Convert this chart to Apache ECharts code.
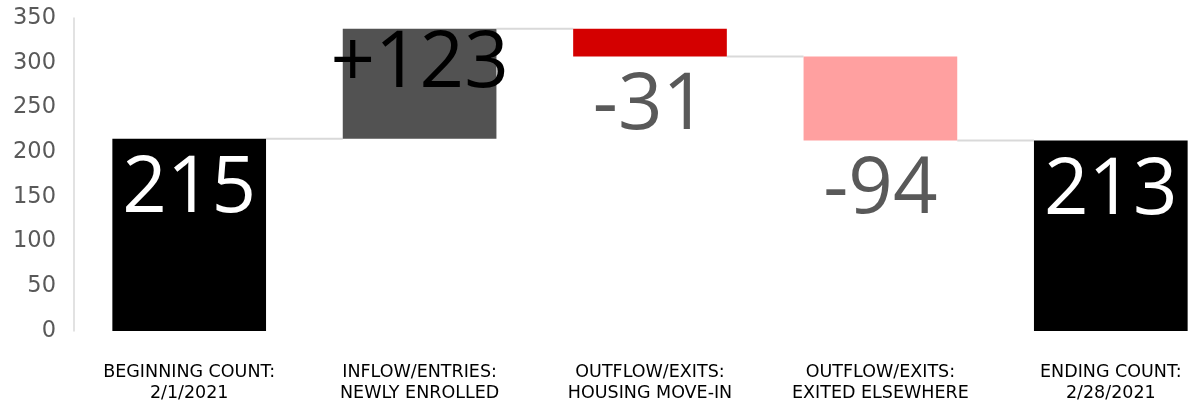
<!DOCTYPE html>
<html><head><meta charset="utf-8">
<script src="https://cdn.jsdelivr.net/npm/echarts@6/dist/echarts.min.js"></script>
<style>html,body{margin:0;padding:0;background:#fff}#c{width:1191px;height:406px}</style>
</head><body><div id="c"></div>
<script>
const categories = ['BEGINNING COUNT:\n2/1/2021','INFLOW/ENTRIES:\nNEWLY ENROLLED','OUTFLOW/EXITS:\nHOUSING MOVE-IN','OUTFLOW/EXITS:\nEXITED ELSEWHERE','ENDING COUNT:\n2/28/2021'];
const changes = [215, 123, -31, -94, 213];
const isTotal = [true, false, false, false, true];
const valueLabels = ['215', '+123', '-31', '-94', '213'];
const barColors = ['#000000', '#525252', '#d40000', '#ffa0a0', '#000000'];
const labelColors = ['#ffffff', '#000000', '#595959', '#595959', '#ffffff'];
const yTicks = [0, 50, 100, 150, 200, 250, 300, 350];

// compute waterfall geometry from data
const bases = [], heights = [], tops = [];
let running = 0;
changes.forEach((v, i) => {
  if (isTotal[i]) { bases.push(0); heights.push(v); running = v; }
  else if (v >= 0) { bases.push(running); heights.push(v); running += v; }
  else { bases.push(running + v); heights.push(-v); running += v; }
  tops.push(running);
});
const levels = changes.map((v, i) => isTotal[i] ? v : tops[i]);
const connectors = [];
for (let i = 0; i < changes.length - 1; i++) connectors.push([i, levels[i]]);

const barRatio = 0.667;
const labelFont = '"Open Sans", "Noto Sans", sans-serif';

const valueData = heights.map((h, i) => {
  const neg = !isTotal[i] && changes[i] < 0;
  return {
    value: h,
    itemStyle: { color: barColors[i] },
    label: {
      show: true,
      formatter: valueLabels[i],
      color: labelColors[i],
      position: neg ? 'bottom' : 'insideTop',
      distance: neg ? 11 : (i === 1 ? -3 : 12),
      fontSize: 78,
      lineHeight: 78,
      fontFamily: labelFont
    }
  };
});

const chart = echarts.init(document.getElementById('c'), null, { renderer: 'canvas' });
chart.setOption({
  animation: false,
  grid: { left: 74, width: 1152, top: 18, bottom: 75, outerBoundsMode: 'none', containLabel: false },
  xAxis: {
    type: 'category',
    data: categories,
    axisLine: { show: false },
    axisTick: { show: false },
    axisLabel: {
      interval: 0,
      color: '#000',
      fontFamily: '"DejaVu Sans", sans-serif',
      fontSize: 17.5,
      lineHeight: 21,
      margin: 31
    }
  },
  yAxis: {
    type: 'value',
    min: 0, max: 350, interval: 50,
    axisLine: { show: true, lineStyle: { color: '#d9d9d9', width: 1.5 } },
    axisTick: { show: false },
    splitLine: { show: false },
    axisLabel: {
      color: '#595959', fontSize: 22.5, margin: 18,
      fontFamily: '"DejaVu Sans", sans-serif',
      formatter: v => yTicks.includes(v) ? String(v) : ''
    }
  },
  series: [
    {
      type: 'bar', stack: 'wf', barWidth: (barRatio * 100) + '%',
      itemStyle: { color: 'transparent' },
      emphasis: { disabled: true },
      data: bases
    },
    {
      type: 'bar', stack: 'wf', barWidth: (barRatio * 100) + '%',
      data: valueData
    },
    {
      type: 'custom',
      data: connectors,
      z: 1,
      renderItem: function (params, api) {
        const i = api.value(0), y = api.value(1);
        const p1 = api.coord([i, y]);
        const p2 = api.coord([i + 1, y]);
        const band = api.size([1, 0])[0];
        const half = band * barRatio / 2;
        return {
          type: 'line',
          shape: { x1: p1[0] + half, y1: p1[1], x2: p2[0] - half, y2: p2[1] },
          style: { stroke: '#d9d9d9', lineWidth: 2 }
        };
      }
    }
  ]
});
</script>
</body></html>
